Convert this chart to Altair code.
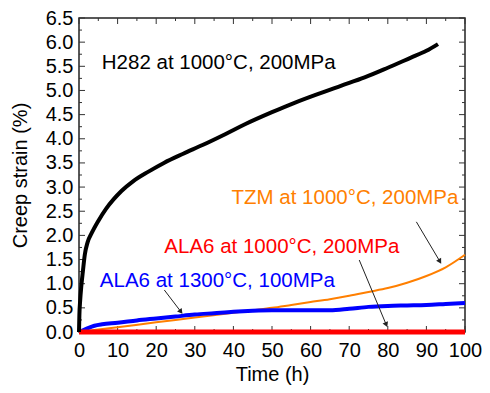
import altair as alt
import pandas as pd

# ---- data ----
h282_t = [0, 0.1, 0.3, 0.6, 1.0, 1.5, 2.2, 3.3, 5, 7, 9, 11, 14, 18, 22, 27, 32, 38, 43, 50, 56, 62, 68, 74, 80, 86, 90, 93]
h282_s = [0, 0.35, 0.65, 0.95, 1.25, 1.6, 1.85, 2.05, 2.3, 2.55, 2.75, 2.92, 3.12, 3.32, 3.5, 3.69, 3.87, 4.1, 4.3, 4.55, 4.75, 4.93, 5.1, 5.27, 5.47, 5.68, 5.82, 5.96]

tzm_t = [0, 10, 20, 30, 40, 45, 50, 55, 60, 65, 70, 75, 80, 85, 90, 95, 100]
tzm_s = [0, 0.1, 0.2, 0.3, 0.4, 0.45, 0.5, 0.56, 0.62, 0.68, 0.75, 0.83, 0.91, 1.02, 1.16, 1.34, 1.6]

ala1300_t = [0, 2, 4, 6, 10, 15, 20, 25, 30, 35, 40, 45, 50, 55, 60, 65, 70, 75, 80, 85, 90, 95, 100]
ala1300_s = [0, 0.07, 0.13, 0.16, 0.19, 0.24, 0.28, 0.32, 0.36, 0.39, 0.42, 0.44, 0.45, 0.45, 0.45, 0.45, 0.48, 0.52, 0.54, 0.55, 0.56, 0.58, 0.60]

ala1000_t = [0, 20, 40, 60, 80, 100]
ala1000_s = [0, 0, 0, 0, 0, 0]

label_text = ["H282 at 1000°C, 200MPa", "TZM at 1000°C, 200MPa", "ALA6 at 1000°C, 200MPa", "ALA6 at 1300°C, 100MPa"]
label_x = [5.9, 39.5, 22.1, 5.4]
label_y = [5.44, 2.66, 1.64, 0.93]
label_color = ["#000000", "#FF7F00", "#FF0000", "#0000FF"]

arrow_x = [87.4, 72.6, 22.1]
arrow_y = [2.28, 1.49, 0.87]
arrow_x2 = [93.5, 79.6, 26.4]
arrow_y2 = [1.46, 0.15, 0.42]
arrow_angle = [149, 157, 142]

x_major = list(range(0, 101, 10))
x_minor = list(range(5, 100, 10))
y_major = [i * 0.5 for i in range(0, 14)]
y_minor = [0.25 + i * 0.5 for i in range(0, 13)]

W, H = 386, 314
xs = alt.Scale(domain=[0, 100], nice=False)
ys = alt.Scale(domain=[0, 6.5], nice=False)

x_axis = alt.Axis(
    title="Time (h)", values=x_major, ticks=False, domain=False, grid=False,
    labelPadding=8, labelFontSize=20, titleFontSize=20, titleFontWeight="normal",
    labelFlush=False, labelOverlap=False,
    titleX=W / 2, titleY=42, titleBaseline="middle", labelColor="#000000", titleColor="#000000")
y_axis = alt.Axis(
    title="Creep strain (%)", values=y_major, format=".1f", ticks=False, domain=False, grid=False,
    labelPadding=6, labelFontSize=20, titleFontSize=20, titleFontWeight="normal",
    labelFlush=False, labelOverlap=False,
    titleX=-59, titleY=157, titleAngle=270, titleAlign="center", titleBaseline="middle",
    labelColor="#000000", titleColor="#000000")


def X(field):
    return alt.X(field, scale=xs, axis=x_axis)


def Y(field):
    return alt.Y(field, scale=ys, axis=y_axis)


def line(t, s, color, width):
    df = pd.DataFrame({"t": t, "s": s})
    return alt.Chart(df).mark_line(color=color, strokeWidth=width, interpolate="monotone").encode(
        x=X("t:Q"), y=Y("s:Q"))


lines = [
    line(tzm_t, tzm_s, "#FF7F00", 2),
    line(ala1300_t, ala1300_s, "#0000FF", 4),
    line(ala1000_t, ala1000_s, "#FF0000", 5),
    line(h282_t, h282_s, "#000000", 4),
]


def xticks(vals, length):
    df = pd.DataFrame({"t": vals})
    bottom = alt.Chart(df).mark_rule(color="#333333", strokeWidth=1).encode(
        x=X("t:Q"), y=alt.value(H), y2=alt.value(H - length))
    top = alt.Chart(df).mark_rule(color="#333333", strokeWidth=1).encode(
        x=X("t:Q"), y=alt.value(0), y2=alt.value(length))
    return [bottom, top]


def yticks(vals, length):
    df = pd.DataFrame({"s": vals})
    left = alt.Chart(df).mark_rule(color="#333333", strokeWidth=1).encode(
        y=Y("s:Q"), x=alt.value(0), x2=alt.value(length))
    right = alt.Chart(df).mark_rule(color="#333333", strokeWidth=1).encode(
        y=Y("s:Q"), x=alt.value(W), x2=alt.value(W - length))
    return [left, right]


ticks = xticks(x_major, 6) + xticks(x_minor, 3) + yticks(y_major, 6) + yticks(y_minor, 3)

frame = alt.Chart(pd.DataFrame({"a": [0]})).mark_rect(
    fill="transparent", stroke="#222222", strokeWidth=1.5).encode(
    x=alt.value(0), x2=alt.value(W), y=alt.value(0), y2=alt.value(H))

lab_df = pd.DataFrame({"t": label_x, "s": label_y, "txt": label_text, "col": label_color})
labels = alt.Chart(lab_df).mark_text(align="left", baseline="alphabetic", fontSize=20.5).encode(
    x=X("t:Q"), y=Y("s:Q"),
    text="txt:N",
    color=alt.Color("col:N", scale=None),
)

arr_df = pd.DataFrame({"t": arrow_x, "s": arrow_y, "t2": arrow_x2, "s2": arrow_y2, "ang": arrow_angle})
arrow_lines = alt.Chart(arr_df).mark_rule(color="#222222", strokeWidth=1).encode(
    x=X("t:Q"), y=Y("s:Q"), x2="t2:Q", y2="s2:Q")
arrow_heads = alt.Chart(arr_df).mark_point(shape="triangle-up", filled=True, color="#222222", size=34, opacity=1).encode(
    x=X("t2:Q"), y=Y("s2:Q"),
    angle=alt.Angle("ang:Q", scale=None),
)

chart = alt.layer(frame, *ticks, *lines, labels, arrow_lines, arrow_heads).properties(
    width=W, height=H,
    autosize=alt.AutoSizeParams(type="none"),
    padding={"left": 71, "top": 10, "right": 17, "bottom": 53},
).configure(font="Liberation Sans").configure_view(strokeWidth=0)

chart.save("out.html", embed_options={"renderer": "svg", "actions": False})
